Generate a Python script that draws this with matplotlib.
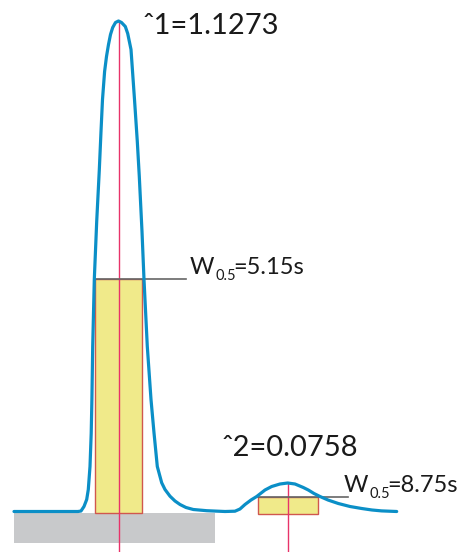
import matplotlib.pyplot as plt
from matplotlib.patches import Rectangle

plt.rcParams["font.family"] = ["Lato", "DejaVu Sans"]

# chromatogram trace (time units, detector height)
t = [14, 78, 81, 84, 86.7, 88.3, 90, 91.2, 91.9, 92.7, 94.3, 96.7, 99.3, 101,
     102.5, 104.6, 106.5, 108.5, 110.5, 112.7, 115.5, 118.5, 121.5, 125.3,
     127.7, 131, 134.5, 137.3, 139.3, 142, 144, 147.3, 151, 154, 157.3, 161.7,
     165, 170, 175, 180, 186, 193.3, 206.7, 225, 235, 240, 245, 251, 256.7,
     265, 271.7, 280, 287.7, 295, 303.3, 308.3, 314, 320, 328, 338.3, 350,
     361.7, 372, 381.7, 396.7]
signal = [0, 0, 0.5, 5, 12, 22, 45, 78, 112, 165, 232, 290, 341.5, 380,
          412, 440, 455, 467, 477, 484, 489, 490.5, 489, 485,
          478, 462, 412, 370, 335, 280, 232, 165, 112, 78.7, 45, 28.7,
          22, 15.3, 10.5, 7, 4, 2, 0.8, 0, 0.3, 2.5, 7, 11.5, 15,
          21.5, 25, 27.5, 28.5, 27.5, 24, 21.5, 18, 15, 11.5, 8, 5,
          3, 1.5, 0.6, 0]

# peaks: retention time, height, half-width box (left, right, top)
peak_t = [118.5, 288]
peak_h = [490.5, 28.5]
box_left = [95, 258]
box_right = [142, 318]
box_top = [232.5, 14.5]
box_bottom = [-1.5, -2.5]
label_end = [186, 348]
heights = ["ˆ1=1.1273", "ˆ2=0.0758"]
widths = ["=5.15s", "=8.75s"]
height_pos = [(143, 477), (222, 56)]
width_pos = [(190, 237), (344, 20)]

# baseline block under first peak
base_left, base_right = 14, 215
base_top, base_bottom = -1.5, -31.5

fig = plt.figure(figsize=(4.59, 5.52), dpi=100)
ax = fig.add_axes([0, 0, 1, 1])
ax.set_xlim(0, 459)
ax.set_ylim(-40.5, 511.5)
ax.set_axis_off()

ax.add_patch(Rectangle((base_left, base_bottom), base_right - base_left,
                       base_top - base_bottom, facecolor="#c8c9cb",
                       edgecolor="none", zorder=1))

for i in range(2):
    ax.add_patch(Rectangle((box_left[i], box_bottom[i]),
                           box_right[i] - box_left[i],
                           box_top[i] - box_bottom[i],
                           facecolor="#f0ea8a", edgecolor="#d0574e",
                           linewidth=1, zorder=2))
    ax.plot([peak_t[i], peak_t[i]], [-40.5, peak_h[i]], color="#e8336a",
            linewidth=1, zorder=3)
    ax.plot([box_left[i], label_end[i]], [box_top[i], box_top[i]],
            color="#666666", linewidth=1.2, zorder=3)
    ax.text(height_pos[i][0], height_pos[i][1], heights[i], fontsize=21,
            color="#1a1a1a", ha="left", va="baseline")
    # W, subscript 0.5, then the value on the W baseline
    w = ax.text(width_pos[i][0], width_pos[i][1], "W", fontsize=17,
                color="#1a1a1a", ha="left", va="baseline")
    sub = ax.annotate("0.5", xy=(1, 0), xycoords=w, xytext=(0.4, -3.6),
                      textcoords="offset points", fontsize=10.5,
                      color="#1a1a1a", ha="left", va="bottom")
    ax.annotate(widths[i], xy=(1, 0), xycoords=(sub, w), xytext=(-1.6, 0),
                textcoords="offset points", fontsize=17, color="#1a1a1a",
                ha="left", va="bottom")

ax.plot(t, signal, color="#0b8fc7", linewidth=2.3, solid_capstyle="round",
        solid_joinstyle="round", zorder=4)

fig.savefig("out.png", dpi=100)
